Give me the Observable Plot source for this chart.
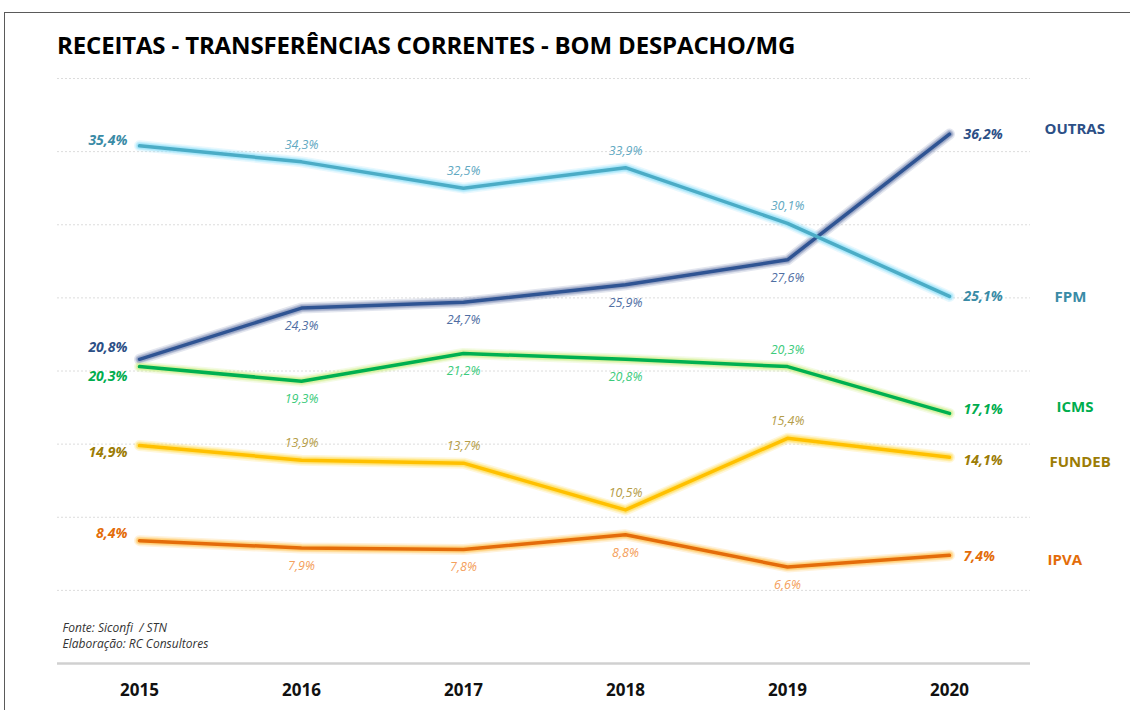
<!DOCTYPE html>
<html>
<head>
<meta charset="utf-8">
<script src="https://cdn.jsdelivr.net/npm/d3@7"></script>
<script src="https://cdn.jsdelivr.net/npm/@observablehq/plot@0.6"></script>
<style>
  html, body { margin: 0; padding: 0; background: #fff; }
  #wrap { position: relative; width: 1130px; height: 710px; overflow: hidden; font-family: "Open Sans", sans-serif; }
  #frame { position: absolute; left: 4px; top: 12px; width: 1200px; height: 800px; border: 1.5px solid #5a5a5a; box-sizing: border-box; }
  #title { position: absolute; left: 57px; top: 28px; font-size: 24px; font-weight: 700; color: #000; letter-spacing: -0.15px; white-space: nowrap; }
  #chart { position: absolute; left: 0; top: 60px; }
</style>
</head>
<body>
<div id="wrap">
  <div id="frame"></div>
  <div id="title">RECEITAS - TRANSFERÊNCIAS CORRENTES - BOM DESPACHO/MG</div>
  <div id="chart"></div>
</div>
<script>
const years = [2015, 2016, 2017, 2018, 2019, 2020];
const outras = [20.8, 24.3, 24.7, 25.9, 27.6, 36.2];
const fpm    = [35.4, 34.3, 32.5, 33.9, 30.1, 25.1];
const icms   = [20.3, 19.3, 21.2, 20.8, 20.3, 17.1];
const fundeb = [14.9, 13.9, 13.7, 10.5, 15.4, 14.1];
const ipva   = [8.4, 7.9, 7.8, 8.8, 6.6, 7.4];
const seriesNames = ["OUTRAS", "FPM", "ICMS", "FUNDEB", "IPVA"];
const gridValues = [5, 10, 15, 20, 25, 30, 35, 40];
const sourceLines = ["Fonte: Siconfi  / STN", "Elaboração: RC Consultores"];

// styling config (not data)
const seriesValues = {OUTRAS: outras, FPM: fpm, ICMS: icms, FUNDEB: fundeb, IPVA: ipva};
const style = {
  OUTRAS: {line: "#2f5493", halo: "#8f9cbf", end: "#2c4f86", mid: "#4f6ea3", startDy: -12, endDy: 0, nameDy: -5, nameDx: 95, mid_pos: ["below","below","below","below"]},
  FPM:    {line: "#4bacc6", halo: "#9fe4fa", end: "#3a8ba6", mid: "#62a9c2", startDy: -5, endDy: 0, nameDy: 1, nameDx: 105, mid_pos: ["above","above","above","above"]},
  ICMS:   {line: "#00b050", halo: "#d2f095", end: "#00ad4e", mid: "#3ccb7c", startDy: 10, endDy: -4, nameDy: -6, nameDx: 107, mid_pos: ["below","below","below","above"]},
  FUNDEB: {line: "#ffc000", halo: "#ffe066", end: "#9c7c05", mid: "#b59d48", startDy: 7, endDy: 3, nameDy: 5, nameDx: 100, mid_pos: ["above","above","above","above"]},
  IPVA:   {line: "#e46c0a", halo: "#ffcb6b", end: "#e36c09", mid: "#f4a05c", startDy: -7, endDy: 1, nameDy: 5, nameDx: 98, mid_pos: ["below","below","below","below"]}
};
const fmt = v => v.toFixed(1).replace(".", ",") + "%";

const marks = [
  Plot.ruleY(gridValues, {stroke: "#dcdcdc", strokeDasharray: "2,2", strokeWidth: 1}),
  Plot.ruleY([0], {stroke: "#d0d0d0", strokeWidth: 2.5})
];

// glow layers
for (const [w, o] of [[11, 0.25], [8, 0.45], [6, 0.7]]) {
  for (const name of seriesNames) {
    const rows = years.map((yr, i) => ({year: yr, value: seriesValues[name][i], i}));
    const s = style[name];
    marks.push(Plot.line(rows, {x: "year", y: "value", stroke: s.halo, strokeWidth: w, strokeOpacity: o}));
  }
}
for (const name of seriesNames) {
  const rows = years.map((yr, i) => ({year: yr, value: seriesValues[name][i], i}));
  const s = style[name];
  marks.push(Plot.line(rows, {x: "year", y: "value", stroke: s.line, strokeWidth: 3.5}));
  // start label
  marks.push(Plot.text(rows.slice(0, 1), {x: "year", y: "value", text: d => fmt(d.value), textAnchor: "end", dx: -12, dy: s.startDy, fill: s.end, fontWeight: "bold", fontStyle: "italic", fontSize: 14}));
  // end label
  marks.push(Plot.text(rows.slice(-1), {x: "year", y: "value", text: d => fmt(d.value), textAnchor: "start", dx: 14, dy: s.endDy, fill: s.end, fontWeight: "bold", fontStyle: "italic", fontSize: 14}));
  // middle labels
  const mids = rows.slice(1, -1);
  marks.push(Plot.text(mids.filter((d, k) => s.mid_pos[k] === "above"), {x: "year", y: "value", text: d => fmt(d.value), dy: -17, fill: s.mid, fontStyle: "italic", fontSize: 12.5}));
  marks.push(Plot.text(mids.filter((d, k) => s.mid_pos[k] === "below"), {x: "year", y: "value", text: d => fmt(d.value), dy: 18, fill: s.mid, fontStyle: "italic", fontSize: 12.5}));
  // series name
  marks.push(Plot.text(rows.slice(-1), {x: "year", y: "value", text: () => name, textAnchor: "start", dx: s.nameDx, dy: s.nameDy, fill: s.end, fontWeight: "bold", fontSize: 15}));
}

marks.push(Plot.text([sourceLines[0]], {frameAnchor: "bottom-left", dx: 5, dy: -32, textAnchor: "start", fill: "#333", fontStyle: "italic", fontSize: 12}));
marks.push(Plot.text([sourceLines[1]], {frameAnchor: "bottom-left", dx: 5, dy: -16, textAnchor: "start", fill: "#333", fontStyle: "italic", fontSize: 12}));

const chart = Plot.plot({
  width: 1130,
  height: 650,
  marginTop: 18,
  marginBottom: 47,
  marginLeft: 57,
  marginRight: 100,
  style: {fontFamily: "'Open Sans', sans-serif", background: "transparent", overflow: "visible"},
  x: {type: "point", domain: years, padding: 0.5, axis: "bottom", tickSize: 0, tickPadding: 20, label: null, tickFormat: d => String(d)},
  y: {domain: [0, 40], axis: null},
  marks
});
d3.select(chart).selectAll('g[aria-label="x-axis tick label"] text, g[aria-label="x-axis"] text')
  .style("font-size", "17px").style("font-weight", "700").style("fill", "#111");
d3.select(chart).selectAll('g[aria-label="x-axis tick label"], g[aria-label="x-axis"]').attr("font-size", 17).attr("font-weight", 700);
document.getElementById("chart").appendChild(chart);
</script>
</body>
</html>
